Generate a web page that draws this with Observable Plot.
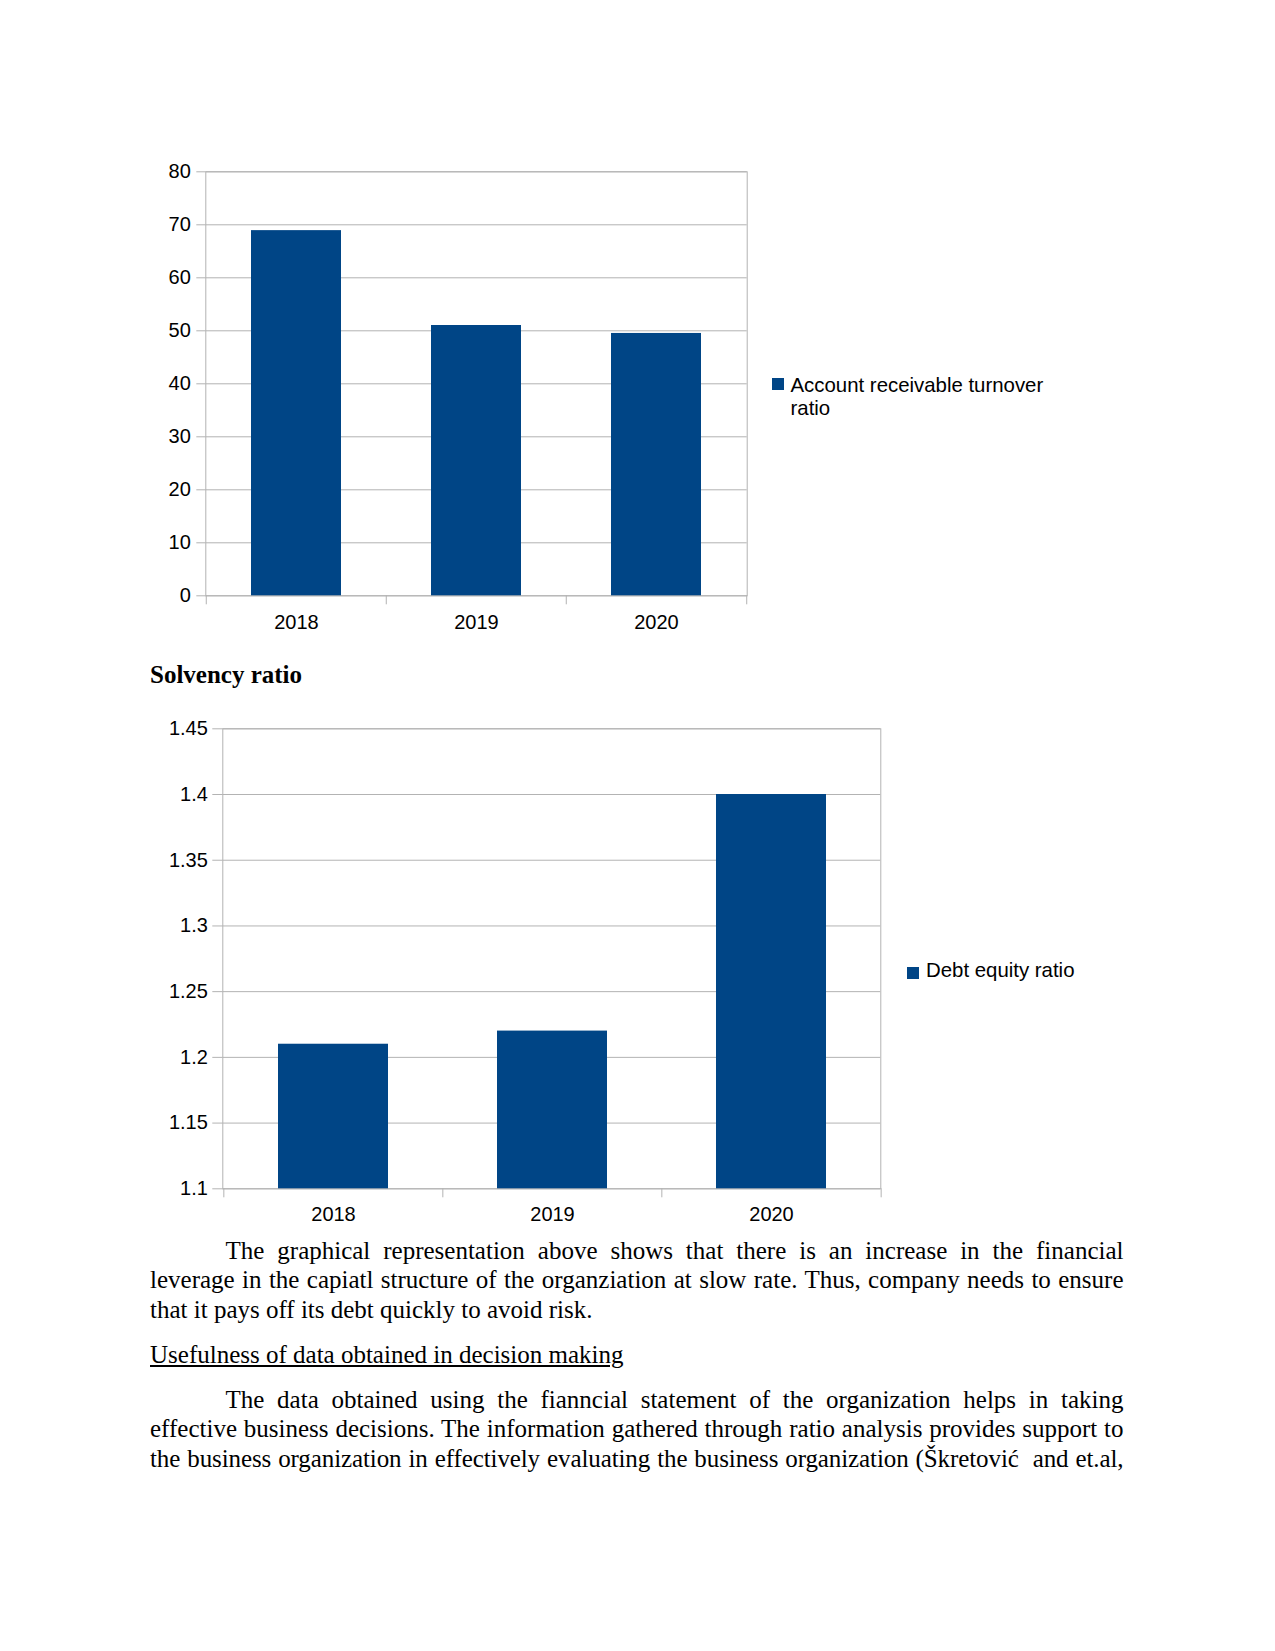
<!DOCTYPE html>
<html><head><meta charset="utf-8">
<script src="https://cdn.jsdelivr.net/npm/d3@7"></script>
<script src="https://cdn.jsdelivr.net/npm/@observablehq/plot@0.6"></script>
<style>
html,body{margin:0;padding:0;background:#fff;}
#page{position:relative;width:1275px;height:1651px;background:#fff;overflow:hidden;}
.abs{position:absolute;}
.sans{font-family:"Liberation Sans",Arial,sans-serif;font-size:20.4px;line-height:22.7px;color:#000;white-space:nowrap;}
.serif{font-family:"Liberation Serif","Times New Roman",serif;font-size:25px;line-height:29.5px;color:#000;}
.sw{position:absolute;width:12px;height:12px;background:#004586;}
.line{display:block;}
.j{text-align:justify;text-align-last:justify;}
</style>
</head><body>
<div id="page">
  <div id="chart1" class="abs" style="left:140px;top:150px;"></div>
  <div class="sw" style="left:772px;top:378px;"></div>
  <div class="abs sans" style="left:790.5px;top:374px;">Account receivable turnover<br>ratio</div>

  <div class="abs serif" style="left:150px;top:660.3px;font-weight:bold;white-space:nowrap;">Solvency ratio</div>

  <div id="chart2" class="abs" style="left:140px;top:700px;"></div>
  <div class="sw" style="left:907px;top:966.5px;"></div>
  <div class="abs sans" style="left:926px;top:959.2px;">Debt equity ratio</div>

  <div class="abs serif" style="left:150px;top:1235.6px;width:973.5px;">
    <div class="line j" style="text-indent:75.5px;">The graphical representation above shows that there is an increase in the financial</div>
    <div class="line j">leverage in the capiatl structure of the organziation at slow rate. Thus, company needs to ensure</div>
    <div class="line">that it pays off its debt quickly to avoid risk.</div>
  </div>
  <div class="abs serif" style="left:150px;top:1339.6px;white-space:nowrap;text-decoration:underline;">Usefulness of data obtained in decision making</div>
  <div class="abs serif" style="left:150px;top:1384.8px;width:973.5px;">
    <div class="line j" style="text-indent:75.5px;">The data obtained using the fianncial statement of the organization helps in taking</div>
    <div class="line j">effective business decisions. The information gathered through ratio analysis provides support to</div>
    <div class="line j" style="word-spacing:-2px;letter-spacing:-0.1px;">the business organization in effectively evaluating the business organization (Škretović&nbsp; and et.al,</div>
  </div>
</div>
<script>
// ---- data ----
const years = ["2018", "2019", "2020"];
const receivableTurnover = [68.9, 51, 49.5];
const debtEquity = [1.21, 1.22, 1.40];
const yTicks1 = [0, 10, 20, 30, 40, 50, 60, 70, 80];
const yTicks2 = [1.1, 1.15, 1.2, 1.25, 1.3, 1.35, 1.4, 1.45];
const barColor = "#004586";
const gridColor = "#b3b3b3";

function barChart({values, yTicks, yDomain, width, height, mt, mr, mb, ml, tickSize, tickPadding, xPad, catTick}) {
  const data = years.map((year, i) => ({year, value: values[i]}));
  const step = (width - ml - mr) / years.length;
  const yMin = yDomain[0];
  return Plot.plot({
    width, height,
    marginTop: mt, marginRight: mr, marginBottom: mb, marginLeft: ml,
    style: {fontFamily: "'Liberation Sans', Arial, sans-serif", fontSize: "20px", background: "#fff", color: "#000", overflow: "visible"},
    x: {type: "band", domain: years, paddingInner: 0.5, paddingOuter: 0.25, label: null},
    y: {domain: yDomain, clamp: true, label: null},
    marks: [
      Plot.gridY(yTicks, {stroke: gridColor, strokeOpacity: 1}),
      Plot.frame({stroke: gridColor}),
      Plot.barY(data, {x: "year", y1: () => yMin, y2: "value", fill: barColor}),
      Plot.axisY(yTicks, {tickSize, tickPadding, stroke: gridColor, fill: "#000", fontSize: 20, tickFormat: d => String(+d.toFixed(2)), label: null}),
      Plot.axisX({tickSize: 0, tickPadding: xPad, fill: "#000", fontSize: 20, label: null}),
      Plot.ruleX(years, {x: d => d, y1: () => yMin, y2: () => yMin, dx: -step / 2, insetBottom: -catTick, stroke: gridColor}),
      Plot.ruleX(years.slice(-1), {x: d => d, y1: () => yMin, y2: () => yMin, dx: step / 2, insetBottom: -catTick, stroke: gridColor})
    ]
  });
}

document.getElementById("chart1").append(barChart({
  values: receivableTurnover, yTicks: yTicks1, yDomain: [0, 80],
  width: 620, height: 500, mt: 21.3, mr: 13.3, mb: 54.7, ml: 65.3,
  tickSize: 9, tickPadding: 6, xPad: 18.5, catTick: 9
}));
document.getElementById("chart2").append(barChart({
  values: debtEquity, yTicks: yTicks2, yDomain: [1.1, 1.45],
  width: 750.3, height: 538.3, mt: 28.3, mr: 10, mb: 50, ml: 82.3,
  tickSize: 10, tickPadding: 5, xPad: 17.5, catTick: 9
}));
</script>
</body></html>
